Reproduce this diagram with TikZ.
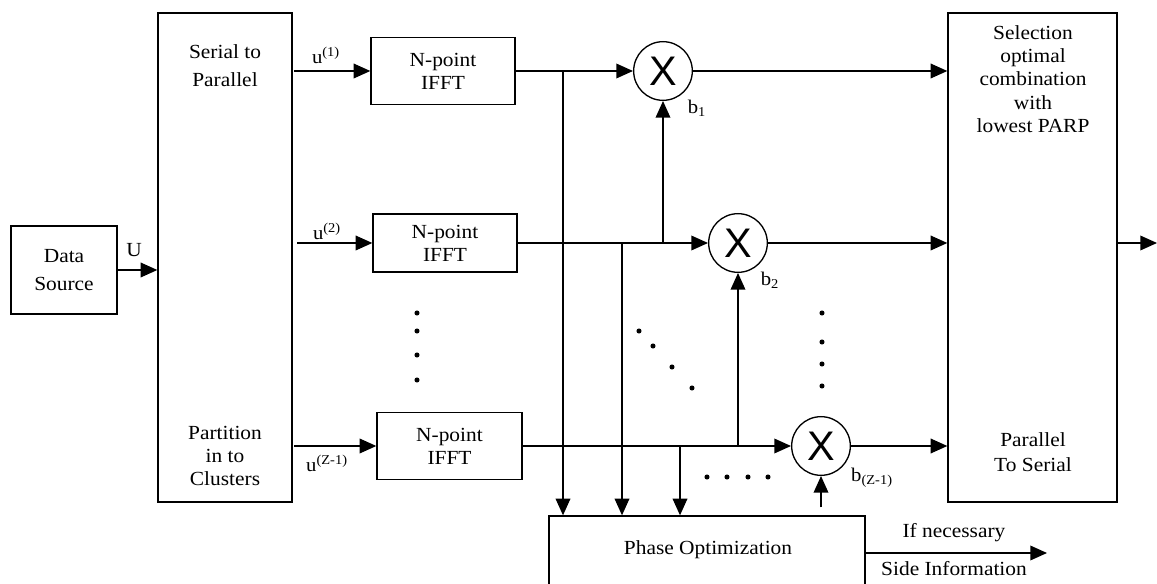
\documentclass[tikz,border=0pt]{standalone}
\usepackage{fontspec}
\setmainfont{Liberation Serif}[FakeStretch=1.07]
\newfontfamily\xsans{Liberation Sans}
\usetikzlibrary{arrows.meta}
\begin{document}
\begin{tikzpicture}[x=0.75pt,y=-0.75pt, line width=1pt,
  box/.style={draw, rectangle, inner sep=0pt, align=center, font=\fontsize{15}{17.4}\selectfont},
  arr/.style={-{Triangle[length=12.5pt,width=11pt]}},
  mult/.style={draw, circle, minimum size=44pt, inner sep=0pt, font=\xsans\fontsize{31}{31}\selectfont},
  txt/.style={align=center, inner sep=0pt, font=\fontsize{15}{17.4}\selectfont},
  small/.style={inner sep=0pt, font=\fontsize{14.5}{16}\selectfont},
  dotr/.style={radius=1.9pt}
]
\useasboundingbox (0,0) rectangle (1157,584);

% blocks
\node[box, minimum width=79.5pt, minimum height=66pt, font=\fontsize{15}{21}\selectfont] (ds) at (64,270) {Data\\Source};
\node[box, minimum width=100.5pt, minimum height=366.75pt] (sp) at (225,257.5) {};
\node[txt, font=\fontsize{15}{21}\selectfont] (sptop) at (225,66) {Serial to\\Parallel};
\node[txt] (spbot) at (225,456) {Partition\\in to\\Clusters};

\node[box, minimum width=108pt, minimum height=50.25pt] (ifft1) at (443,71) {N-point\\IFFT};
\node[box, minimum width=108pt, minimum height=43.5pt] (ifft2) at (445,243) {N-point\\IFFT};
\node[box, minimum width=108.75pt, minimum height=50.25pt] (ifft3) at (449.5,446) {N-point\\IFFT};

\node[mult] (m1) at (663,71) {X};
\node[mult] (m2) at (738,243) {X};
\node[mult] (m3) at (821,446) {X};

\node[box, minimum width=126.75pt, minimum height=366.75pt] (sel) at (1032.5,257.5) {};
\node[txt] (seltop) at (1033,79) {Selection\\optimal\\combination\\with\\lowest PARP};
\node[txt, font=\fontsize{15}{18.75}\selectfont] (selbot) at (1033,452.5) {Parallel\\To Serial};

\node[box, minimum width=237pt, minimum height=55.5pt] (phase) at (707,553) {};
\node[txt] (phtxt) at (708,550) {Phase Optimization};

% input
\draw[arr] (ds.east) -- (ds.east -| sp.west);
\node[txt] (ulbl) at (134,250) {U};

\draw[arr] ([xshift=-57pt]ifft1.west) -- (ifft1.west);
\draw[arr] ([xshift=-56.25pt]ifft2.west) -- (ifft2.west);
\draw[arr] ([xshift=-61.5pt]ifft3.west) -- (ifft3.west);
\node[small] (u1) at (326,55) {u\textsuperscript{(1)}};
\node[small] (u2) at (327,231) {u\textsuperscript{(2)}};
\node[small] (u3) at (327,463) {u\textsuperscript{(Z-1)}};

% rows to multipliers
\draw[arr] (ifft1.east) -- (m1.west);
\draw[arr] (ifft2.east) -- (m2.west);
\draw[arr] (ifft3.east) -- (m3.west);

% taps
\coordinate (j1) at (563,71);
\coordinate (j2) at (622,243);
\coordinate (j3) at (663,243);
\coordinate (j4) at (680,446);
\coordinate (j5) at (738,446);
\draw[arr] (j1) -- (j1 |- phase.north);
\draw[arr] (j2) -- (j2 |- phase.north);
\draw[arr] (j3) -- (m1.south);
\draw[arr] (j4) -- (j4 |- phase.north);
\draw[arr] (j5) -- (m2.south);
\draw[arr, shorten <=6pt] (m3.south |- phase.north) -- (m3.south);

\node[small] (b1) at (697,108) {b\textsubscript{1}};
\node[small] (b2) at (770,280) {b\textsubscript{2}};
\node[small] (b3) at (872,478) {b\textsubscript{(Z-1)}};

% multipliers to selection
\draw[arr] (m1.east) -- (m1.east -| sel.west);
\draw[arr] (m2.east) -- (m2.east -| sel.west);
\draw[arr] (m3.east) -- (m3.east -| sel.west);

\coordinate (out) at (1157,243);
\draw[arr] (sel.east |- out) -- (out);

\coordinate (si) at (1047,553);
\draw[arr] (phase.east) -- (si);
\node[txt] (ifn) at (954,533) {If necessary};
\node[txt] (sinf) at (954,569) {Side Information};

% dots
\foreach \y in {313,331,355,380} \fill (417,\y) circle[dotr];
\foreach \x/\y in {639/331,653/346,672/367,692/388} \fill (\x,\y) circle[dotr];
\foreach \y in {313,342,364,386} \fill (822,\y) circle[dotr];
\foreach \x in {707,727,748,768} \fill (\x,477) circle[dotr];
\end{tikzpicture}
\end{document}
